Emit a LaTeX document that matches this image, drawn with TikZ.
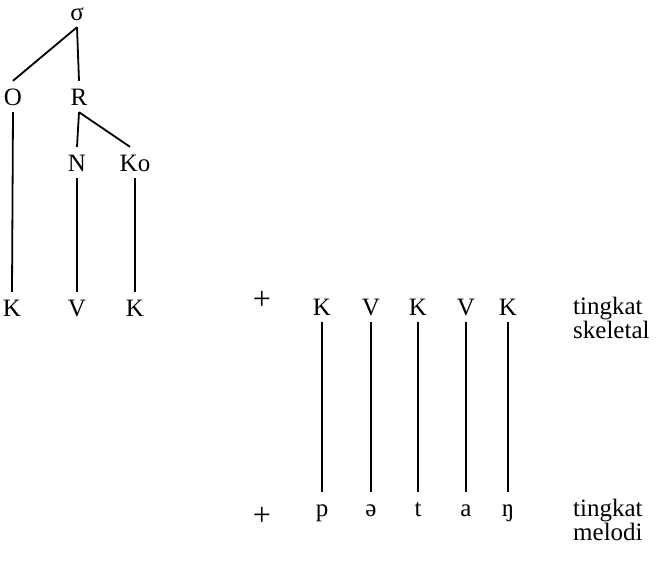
\documentclass[tikz,border=0pt]{standalone}
\usepackage{fontspec}
\setmainfont{Liberation Serif}
\usetikzlibrary{positioning}

\begin{document}
\begin{tikzpicture}[x=1pt, y=-1pt,
		seg/.style={
			font=\fontsize{25}{22}\selectfont,
			anchor=base,
			inner xsep=2pt,
			inner ysep=7pt,
			text height=17pt,
			text depth=0pt
		},
		tier/.style={
			font=\fontsize{25}{22}\selectfont,
			align=left,
			anchor=north west,
			inner sep=0pt
		},
		plus/.style={
			font=\fontsize{32}{22}\selectfont,
			inner sep=0pt
		},
		link/.style={
			line width=1.8pt
		}
	]
	\useasboundingbox (0,0) rectangle (658,566);

	% syllable tree
	\node[seg] (sigma) at (77,20) {σ};
	\node[seg] (O) at (13,105) {O};
	\node[seg] (R) at (79,105) {R};
	\node[seg] (N) at (77,171) {N};
	\node[seg] (Ko) at (135,171) {Ko};
	\node[seg] (K1) at (12,316) {K};
	\node[seg] (V1) at (77,316) {V};
	\node[seg] (K2) at (135,316) {K};

	\draw[link] (sigma.south) -- (O.north);
	\draw[link] (sigma.south) -- (R.north);
	\draw[link] (R.south) -- (N.north);
	\draw[link] (R.south) -- ([xshift=-5pt]Ko.north);
	\draw[link] (O.south) -- (K1.north);
	\draw[link] (N.south) -- (V1.north);
	\draw[link] (Ko.south) -- (K2.north);

	% skeletal tier
	\node[plus] (plusS) at (262,300) {+};
	\node[seg] (sK1) at (322,315) {K};
	\node[seg] (sV1) at (371,315) {V};
	\node[seg] (sK2) at (418,315) {K};
	\node[seg] (sV2) at (466,315) {V};
	\node[seg] (sK3) at (508,315) {K};
	\node[tier] (skel) at (573,297) {tingkat\\skeletal};

	% melodic tier
	\node[plus] (plusM) at (262,516) {+};
	\node[seg] (mp) at (322,516) {p};
	\node[seg] (mschwa) at (371,516) {ə};
	\node[seg] (mt) at (418,516) {t};
	\node[seg] (ma) at (466,516) {a};
	\node[seg] (meng) at (508,516) {ŋ};
	\node[tier] (melo) at (573,499) {tingkat\\melodi};

	\draw[link] (sK1.south) -- (mp.north);
	\draw[link] (sV1.south) -- (mschwa.north);
	\draw[link] (sK2.south) -- (mt.north);
	\draw[link] (sV2.south) -- (ma.north);
	\draw[link] (sK3.south) -- (meng.north);

\end{tikzpicture}
\end{document}
